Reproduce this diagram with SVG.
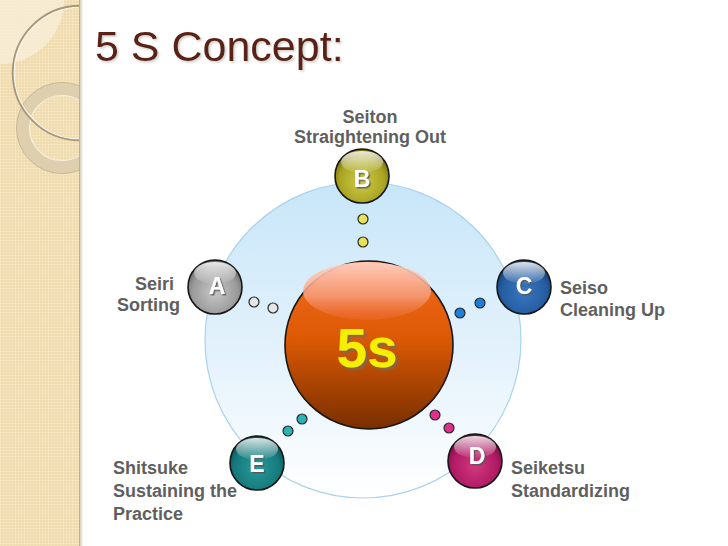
<svg xmlns="http://www.w3.org/2000/svg" width="728" height="546" viewBox="0 0 728 546">
<defs>
<style>
.lbl{font-family:"Liberation Sans",Arial,sans-serif;font-weight:bold;font-size:18px;fill:#5f5f5f}
.let{font-family:"Liberation Sans",Arial,sans-serif;font-weight:bold;font-size:23px;fill:#ffffff;text-anchor:middle;filter:url(#shL)}
.ball{stroke:#161616;stroke-width:1.6}
.dot{stroke:#2a2a2a;stroke-width:1.2}
</style>
<filter id="shL" x="-30%" y="-30%" width="160%" height="160%">
<feDropShadow dx="1.5" dy="1.5" stdDeviation="0.6" flood-color="#555555" flood-opacity="0.8"/>
</filter>
<filter id="sh5" x="-20%" y="-20%" width="140%" height="140%">
<feDropShadow dx="2.5" dy="2.5" stdDeviation="0.8" flood-color="#7a6a58" flood-opacity="0.85"/>
</filter>
<filter id="shT" x="-10%" y="-20%" width="120%" height="140%">
<feDropShadow dx="1.5" dy="1.5" stdDeviation="1" flood-color="#a09890" flood-opacity="0.5"/>
</filter>
<pattern id="tex" width="3" height="3" patternUnits="userSpaceOnUse">
<rect width="3" height="3" fill="#f2dfb5"/>
<rect width="1" height="1" fill="#f8eaca"/>
<rect x="1.5" y="1.5" width="1" height="1" fill="#e8d4a6"/>
</pattern>
<clipPath id="side"><rect x="0" y="0" width="80" height="546"/></clipPath>
<linearGradient id="bg" x1="0" y1="0" x2="0" y2="1">
<stop offset="0" stop-color="#c7e6f9"/>
<stop offset="0.55" stop-color="#e4f2fc"/>
<stop offset="1" stop-color="#ffffff"/>
</linearGradient>
<linearGradient id="gOr" x1="0" y1="0" x2="0" y2="1">
<stop offset="0" stop-color="#f06a20"/>
<stop offset="0.45" stop-color="#de5a04"/>
<stop offset="1" stop-color="#782e00"/>
</linearGradient>
<linearGradient id="glossOr" x1="0" y1="0" x2="0" y2="1">
<stop offset="0" stop-color="#ffd2c4" stop-opacity="0.95"/>
<stop offset="0.6" stop-color="#f8a080" stop-opacity="0.8"/>
<stop offset="1" stop-color="#f07040" stop-opacity="0.3"/>
</linearGradient>
<linearGradient id="gloss" x1="0" y1="0" x2="0" y2="1">
<stop offset="0" stop-color="#ffffff" stop-opacity="0.85"/>
<stop offset="1" stop-color="#ffffff" stop-opacity="0.05"/>
</linearGradient>
<radialGradient id="gA" cx="0.5" cy="0.6" r="0.6">
<stop offset="0" stop-color="#c8c8c8"/>
<stop offset="0.7" stop-color="#9a9a9a"/>
<stop offset="1" stop-color="#666666"/>
</radialGradient>
<radialGradient id="gB" cx="0.5" cy="0.6" r="0.6">
<stop offset="0" stop-color="#cfca4a"/>
<stop offset="0.7" stop-color="#a9a420"/>
<stop offset="1" stop-color="#6c6808"/>
</radialGradient>
<radialGradient id="gC" cx="0.5" cy="0.6" r="0.6">
<stop offset="0" stop-color="#3a78c0"/>
<stop offset="0.7" stop-color="#245ca0"/>
<stop offset="1" stop-color="#143a6c"/>
</radialGradient>
<radialGradient id="gD" cx="0.5" cy="0.6" r="0.6">
<stop offset="0" stop-color="#d0387e"/>
<stop offset="0.7" stop-color="#b01a64"/>
<stop offset="1" stop-color="#6e0a3c"/>
</radialGradient>
<radialGradient id="gE" cx="0.5" cy="0.6" r="0.6">
<stop offset="0" stop-color="#2a9a9a"/>
<stop offset="0.7" stop-color="#147a7c"/>
<stop offset="1" stop-color="#084c4e"/>
</radialGradient>
</defs>

<rect x="0" y="0" width="728" height="546" fill="#ffffff"/>

<g id="sidebar">
<rect x="0" y="0" width="80" height="546" fill="url(#tex)"/>
<g clip-path="url(#side)">
<path d="M0,0 L64,0 A64,64 0 0 1 0,64 Z" fill="#f8efda" opacity="0.8"/>
<circle cx="62" cy="128" r="39" fill="none" stroke="#dccfae" stroke-width="13" opacity="0.95"/>
<circle cx="62" cy="128" r="45.5" fill="none" stroke="#c8b894" stroke-width="1"/>
<circle cx="62" cy="128" r="32.5" fill="none" stroke="#f6eedc" stroke-width="1.2"/>
<circle cx="80" cy="73" r="67" fill="none" stroke="#a89878" stroke-width="2.4"/>
<circle cx="80" cy="73" r="65.8" fill="none" stroke="#ffffff" stroke-width="1.1" opacity="0.85"/>
</g>
<rect x="79" y="0" width="1.5" height="546" fill="#c2ae88"/>
<rect x="80.5" y="0" width="2" height="546" fill="#d8d2c6" opacity="0.6"/>
</g>

<text id="title" x="95" y="61" font-family="'Liberation Sans',Arial,sans-serif" font-size="43" fill="#5a2416" filter="url(#shT)">5 S Concept:</text>

<circle id="ring" cx="363" cy="340" r="158" fill="url(#bg)" stroke="#a9d2ec" stroke-width="1.2"/>

<g id="connectors">
<circle class="dot" cx="363" cy="219" r="5" fill="#e6e256"/>
<circle class="dot" cx="363" cy="242" r="5" fill="#e6e256"/>
<circle class="dot" cx="254" cy="302" r="5" fill="#e6e6e6"/>
<circle class="dot" cx="273" cy="308" r="5" fill="#e6e6e6"/>
<circle class="dot" cx="480" cy="303" r="5" fill="#1f7fd8"/>
<circle class="dot" cx="460" cy="313" r="5" fill="#1f7fd8"/>
<circle class="dot" cx="435" cy="415" r="5" fill="#e0308c"/>
<circle class="dot" cx="449" cy="428" r="5" fill="#e0308c"/>
<circle class="dot" cx="302" cy="419" r="5" fill="#2ab2b4"/>
<circle class="dot" cx="288" cy="431" r="5" fill="#2ab2b4"/>
</g>

<g id="node-center">
<circle class="ball" cx="369" cy="345" r="84" fill="url(#gOr)"/>
<ellipse cx="367" cy="291" rx="64" ry="29" fill="url(#glossOr)"/>
<text x="367" y="367" font-family="'Liberation Sans',Arial,sans-serif" font-weight="bold" font-size="55" fill="#f6f000" text-anchor="middle" filter="url(#sh5)">5s</text>
</g>

<g id="node-B">
<circle class="ball" cx="362" cy="176" r="27" fill="url(#gB)"/>
<ellipse cx="362" cy="162" rx="21" ry="11" fill="url(#gloss)"/>
<text class="let" x="362" y="187">B</text>
<text class="lbl" x="370" y="123" text-anchor="middle">Seiton</text>
<text class="lbl" x="370" y="143" text-anchor="middle">Straightening Out</text>
</g>

<g id="node-A">
<circle class="ball" cx="215" cy="287" r="27" fill="url(#gA)"/>
<ellipse cx="215" cy="273" rx="21" ry="11" fill="url(#gloss)"/>
<text class="let" x="217" y="294">A</text>
<text class="lbl" x="174" y="290" text-anchor="end">Seiri</text>
<text class="lbl" x="180" y="311" text-anchor="end">Sorting</text>
</g>

<g id="node-C">
<circle class="ball" cx="524" cy="287" r="27" fill="url(#gC)"/>
<ellipse cx="524" cy="273" rx="21" ry="11" fill="url(#gloss)"/>
<text class="let" x="524" y="294">C</text>
<text class="lbl" x="560" y="294">Seiso</text>
<text class="lbl" x="560" y="316">Cleaning Up</text>
</g>

<g id="node-D">
<circle class="ball" cx="475" cy="461" r="27" fill="url(#gD)"/>
<ellipse cx="475" cy="447" rx="21" ry="11" fill="url(#gloss)"/>
<text class="let" x="477" y="464">D</text>
<text class="lbl" x="511" y="474">Seiketsu</text>
<text class="lbl" x="511" y="497">Standardizing</text>
</g>

<g id="node-E">
<circle class="ball" cx="257" cy="463" r="27" fill="url(#gE)"/>
<ellipse cx="257" cy="449" rx="21" ry="11" fill="url(#gloss)"/>
<text class="let" x="257" y="472">E</text>
<text class="lbl" x="113" y="474">Shitsuke</text>
<text class="lbl" x="113" y="497">Sustaining the</text>
<text class="lbl" x="113" y="520">Practice</text>
</g>
</svg>
